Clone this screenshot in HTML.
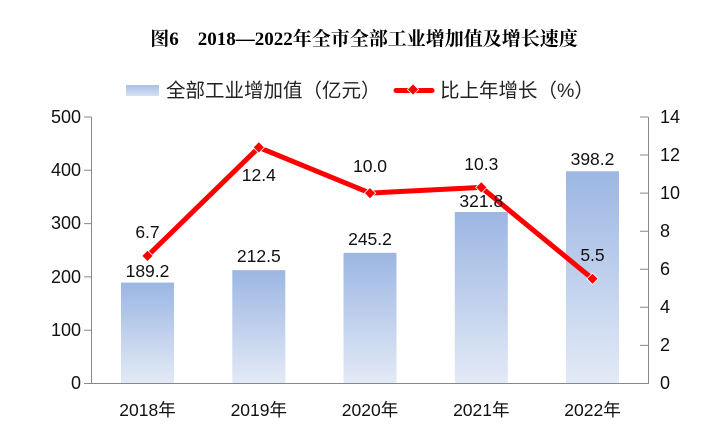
<!DOCTYPE html><html><head><meta charset="utf-8"><style>body{margin:0;background:#fff}svg{display:block}</style></head><body>
<svg width="726" height="442" xmlns="http://www.w3.org/2000/svg" font-family="Liberation Sans, Noto Sans CJK SC, sans-serif">
<defs><linearGradient id="g" x1="0" y1="0" x2="0" y2="1"><stop offset="0" stop-color="#9cb6e3"/><stop offset="1" stop-color="#e3eaf6"/></linearGradient>
<linearGradient id="gl" x1="0" y1="0" x2="0" y2="1"><stop offset="0" stop-color="#a9bfe6"/><stop offset="1" stop-color="#d6e1f3"/></linearGradient></defs>
<text x="364" y="45" text-anchor="middle" font-size="19" font-weight="bold" font-family="Liberation Serif, Noto Serif CJK SC, serif">图6　2018—2022年全市全部工业增加值及增长速度</text>
<rect x="126" y="85" width="33" height="11" fill="url(#gl)"/>
<text x="166" y="97" font-size="19.5" fill="#222">全部工业增加值（亿元）</text>
<line x1="396" y1="90.5" x2="432" y2="90.5" stroke="#f00" stroke-width="5" stroke-linecap="round"/>
<rect x="409" y="85.5" width="8" height="8" fill="#f00" stroke="#fff" stroke-width="0.8" transform="rotate(45 413 89.5)"/>
<text x="440" y="97" font-size="19.5" fill="#222">比上年增长（%）</text>
<g fill="url(#g)">
<rect x="121" y="282.6" width="53" height="100.9"/>
<rect x="232.3" y="270.2" width="53" height="113.3"/>
<rect x="343.5" y="252.8" width="53" height="130.7"/>
<rect x="454.8" y="212" width="53" height="171.5"/>
<rect x="566" y="171.3" width="53" height="212.2"/>
</g>
<g stroke="#888" stroke-width="1" fill="none">
<path d="M91.5 117V383.5H648.5V117"/>
<path d="M84 117H91.5M84 170.3H91.5M84 223.6H91.5M84 276.9H91.5M84 330.2H91.5M84 383.5H91.5"/>
<path d="M640 117H648.5M640 155H648.5M640 193.1H648.5M640 231.2H648.5M640 269.3H648.5M640 307.3H648.5M640 345.4H648.5"/>
</g>
<g font-size="18" fill="#111" text-anchor="end">
<text x="81" y="123">500</text><text x="81" y="176">400</text><text x="81" y="229">300</text><text x="81" y="283">200</text><text x="81" y="336">100</text><text x="81" y="389">0</text>
</g>
<g font-size="18" fill="#111">
<text x="660" y="123">14</text><text x="660" y="161">12</text><text x="660" y="199">10</text><text x="660" y="237">8</text><text x="660" y="275">6</text><text x="660" y="313">4</text><text x="660" y="351">2</text><text x="660" y="389">0</text>
</g>
<g font-size="17.5" fill="#111" text-anchor="middle">
<text x="147.5" y="416">2018年</text><text x="258.8" y="416">2019年</text><text x="370" y="416">2020年</text><text x="481.3" y="416">2021年</text><text x="592.5" y="416">2022年</text>
</g>
<polyline points="147.5,255.9 258.8,147.4 370,193.1 481.3,187.4 592.5,278.8" fill="none" stroke="#f00" stroke-width="5" stroke-linejoin="round"/>
<g fill="#f00" stroke="#fff" stroke-width="0.8">
<rect x="143.5" y="251.9" width="8" height="8" transform="rotate(45 147.5 255.9)"/>
<rect x="254.8" y="143.4" width="8" height="8" transform="rotate(45 258.8 147.4)"/>
<rect x="366" y="189.1" width="8" height="8" transform="rotate(45 370 193.1)"/>
<rect x="477.3" y="183.4" width="8" height="8" transform="rotate(45 481.3 187.4)"/>
<rect x="588.5" y="274.8" width="8" height="8" transform="rotate(45 592.5 278.8)"/>
</g>
<g font-size="17.5" fill="#111" text-anchor="middle">
<text x="147.5" y="277">189.2</text><text x="258.8" y="262">212.5</text><text x="370" y="245">245.2</text><text x="481.3" y="207">321.8</text><text x="592.5" y="165">398.2</text>
<text x="147.5" y="238">6.7</text><text x="258.8" y="181">12.4</text><text x="370" y="172">10.0</text><text x="481.3" y="170">10.3</text><text x="592.5" y="261">5.5</text>
</g>
</svg></body></html>
